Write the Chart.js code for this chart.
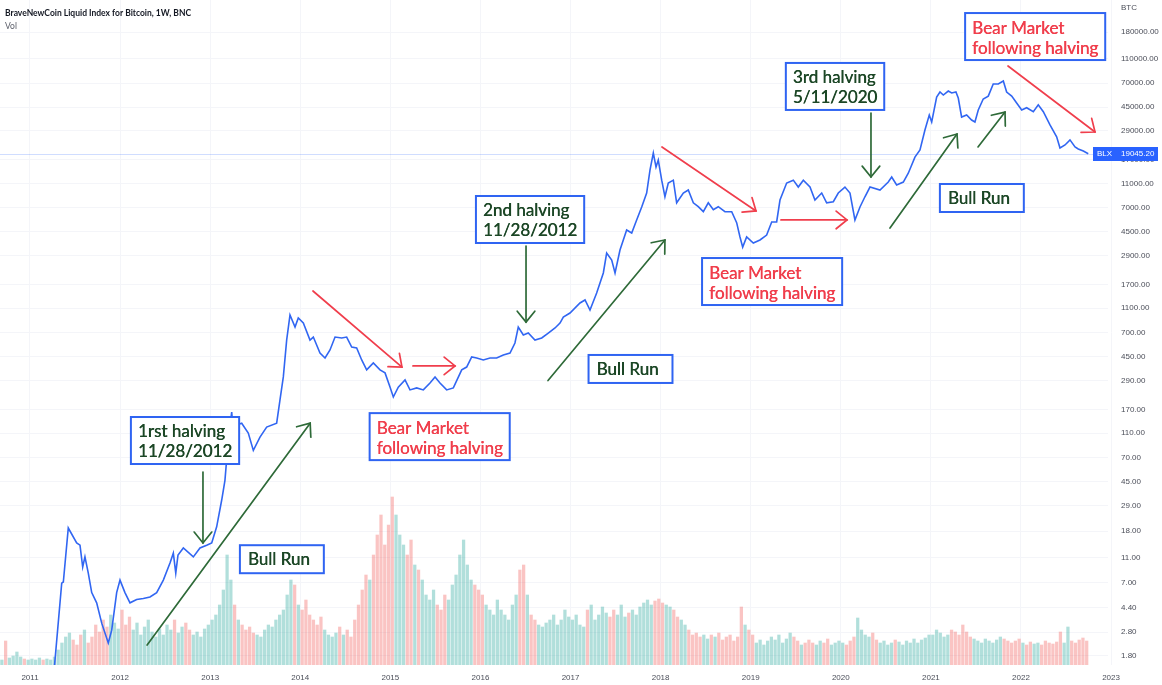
<!DOCTYPE html>
<html><head><meta charset="utf-8">
<script src="https://cdn.jsdelivr.net/npm/chart.js@4/dist/chart.umd.min.js"></script>
<style>html,body{margin:0;padding:0;background:#fff;}canvas{display:block;}</style>
</head><body>
<canvas id="c" width="1162" height="685"></canvas>
<script>
// ---- data ----
const weeks=[2011.266,2011.352,2011.370,2011.425,2011.518,2011.555,2011.585,2011.610,2011.647,2011.685,2011.740,2011.796,2011.869,2011.907,2011.962,2011.999,
2012.054,2012.110,2012.184,2012.258,2012.332,2012.406,2012.480,2012.554,2012.591,2012.618,2012.643,2012.702,2012.813,2012.887,2012.961,
2013.017,2013.072,2013.128,2013.164,2013.201,2013.239,2013.257,2013.294,2013.350,2013.423,2013.479,2013.553,2013.627,2013.738,2013.775,2013.812,2013.849,2013.886,2013.942,2013.978,
2014.034,2014.108,2014.145,2014.219,2014.275,2014.330,2014.386,2014.460,2014.515,2014.571,2014.626,2014.682,2014.737,2014.811,2014.885,2014.941,2014.996,
2015.033,2015.088,2015.163,2015.218,2015.292,2015.366,2015.440,2015.496,2015.551,2015.625,2015.699,2015.792,2015.847,2015.903,2015.958,
2016.032,2016.106,2016.180,2016.254,2016.328,2016.383,2016.420,2016.476,2016.531,2016.605,2016.680,2016.753,2016.828,2016.883,2016.920,2016.994,
2017.105,2017.161,2017.216,2017.290,2017.364,2017.401,2017.457,2017.494,2017.549,2017.623,2017.679,2017.734,2017.790,2017.845,2017.882,2017.919,2017.949,2017.974,
2018.012,2018.048,2018.085,2018.141,2018.178,2018.252,2018.307,2018.363,2018.418,2018.474,2018.529,2018.585,2018.640,2018.714,2018.789,2018.844,2018.881,2018.911,2018.955,
2019.029,2019.103,2019.177,2019.233,2019.288,2019.325,2019.399,2019.473,2019.528,2019.584,2019.658,2019.713,2019.788,2019.843,2019.917,2019.972,
2020.046,2020.102,2020.157,2020.213,2020.268,2020.324,2020.435,2020.527,2020.565,2020.620,2020.694,2020.749,2020.823,2020.879,2020.934,2020.982,
2021.009,2021.064,2021.101,2021.138,2021.193,2021.231,2021.278,2021.304,2021.341,2021.397,2021.452,2021.489,2021.526,2021.581,2021.637,2021.692,2021.748,2021.804,2021.841,2021.897,2021.952,
2022.008,2022.063,2022.137,2022.192,2022.248,2022.322,2022.396,2022.433,2022.489,2022.544,2022.600,2022.636,2022.692,2022.747];
const blx=[1.34,6.9,7.05,19.1,14.5,13.9,9.3,11.2,8.3,5.8,4.8,3.3,2.29,2.9,5.8,7.3,
5.8,4.8,5.1,5.2,5.35,5.8,7.3,10.0,12.0,8.3,11.6,13.2,11.2,13.2,13.9,
14.5,19.5,32,46,97,162,110,128,132,110,80,102,123,132,203,310,612,972,778,919,
838,612,647,482,440,510,647,636,647,538,529,424,353,401,353,334,257,
214,257,293,244,253,244,277,310,277,244,253,353,372,448,440,
424,440,440,465,482,580,778,672,697,612,636,697,765,838,936,1008,
1214,1283,1066,1460,2110,3050,2680,2110,3220,4660,4410,5610,7130,9230,14100,19300,14900,16950,
11700,8610,11100,11700,7710,9230,9760,7710,7170,6540,7710,6780,7170,6540,6540,5340,4100,3400,4100,
3670,3880,4250,5410,5410,8110,11100,11700,10300,11700,10300,8110,9230,7710,7860,9230,
10300,9230,5610,7130,8610,10300,9760,11300,12400,10700,11300,13300,17900,20400,29500,38900,
34200,54200,59500,56300,60600,58400,59500,53200,37500,38900,35500,34200,42700,52300,55200,68900,68900,72800,59500,55200,48600,
42700,44500,41400,47000,41400,32400,26000,21200,22400,24600,21600,20800,20000,19045.2];
const lastPrice=19045.20;
// half-month volume estimates starting at volStart
const volStart=2010.667, volStep=1/24;
const volume=[5,24,7,9,13,8,6,5,
6,5,7,5,6,5,8,15,22,28,32,25,20,30,35,22,28,40,33,45,38,50,42,36,
55,40,48,35,42,30,38,45,33,28,36,30,40,35,45,32,38,42,35,30,33,28,36,40,
45,50,60,75,110,85,60,45,40,35,38,32,30,28,35,40,38,45,50,55,70,85,80,60,
55,65,50,45,40,48,35,30,28,32,38,30,35,28,45,60,75,90,85,110,130,150,120,140,
168,150,130,120,110,125,100,95,85,70,65,75,60,55,70,65,80,90,110,125,100,85,80,75,
70,60,55,50,65,55,50,45,60,70,95,100,70,50,45,40,38,42,45,50,40,45,55,48,
45,50,40,38,55,60,45,50,58,52,48,55,50,60,48,52,55,50,58,62,65,60,64,66,
62,60,58,55,48,45,40,35,30,32,28,30,26,30,28,32,25,28,30,24,28,58,40,35,
30,22,25,20,24,28,25,30,22,26,32,28,24,20,22,25,22,20,24,22,26,20,22,24,
22,20,24,28,47,35,30,28,32,25,22,24,20,22,25,23,20,24,22,26,22,25,27,30,
30,35,32,28,30,35,33,30,40,33,28,26,24,22,26,24,22,25,28,26,24,22,24,26,
22,20,23,21,22,20,24,22,21,23,33,22,38,24,22,25,27,24];
const yearTicks=[2011,2012,2013,2014,2015,2016,2017,2018,2019,2020,2021,2022,2023];
const priceTicks=[1.8,2.8,4.4,7,11,18,29,45,70,110,170,290,450,700,1100,1700,2900,4500,7000,11000,17000,29000,45000,70000,110000,180000];
// annotations in data coordinates (year, price)
const GREEN='#1c4726', GREEN_ARROW='#2e6a38', RED='#f03e4c', BOX='#2f64f2';
const notes=[
 {t:2012.12,p:148,lines:['1rst halving','11/28/2012'],c:GREEN},
 {t:2013.33,p:13.9,lines:['Bull Run'],c:GREEN},
 {t:2014.77,p:159,lines:['Bear Market','following halving'],c:RED},
 {t:2015.95,p:8735,lines:['2nd halving','11/28/2012'],c:GREEN},
 {t:2017.20,p:465,lines:['Bull Run'],c:GREEN},
 {t:2018.46,p:2781,lines:['Bear Market','following halving'],c:RED},
 {t:2019.39,p:101700,lines:['3rd halving','5/11/2020'],c:GREEN},
 {t:2021.10,p:10900,lines:['Bull Run'],c:GREEN},
 {t:2021.38,p:255400,lines:['Bear Market','following halving'],c:RED}
];
const arrows=[
 [2012.92,53.6,2012.92,14.5,GREEN_ARROW],
 [2012.30,2.2,2014.11,132,GREEN_ARROW],
 [2016.506,3470,2016.506,853,GREEN_ARROW],
 [2016.75,290,2018.048,3876,GREEN_ARROW],
 [2020.335,40400,2020.335,12400,GREEN_ARROW],
 [2020.546,4840,2021.29,27400,GREEN_ARROW],
 [2021.523,21600,2021.823,41100,GREEN_ARROW],
 [2014.141,1514,2015.129,372,RED],
 [2015.251,380,2015.718,380,RED],
 [2018.015,21600,2019.059,6626,RED],
 [2019.336,5614,2020.069,5614,RED],
 [2021.856,96200,2022.822,28440,RED]
];

// ---- helpers ----
function priceAt(t){
  if(t<weeks[0]) return null;
  if(t>=weeks[weeks.length-1]) return blx[blx.length-1];
  for(let i=0;i<weeks.length-1;i++){
    if(t>=weeks[i]&&t<weeks[i+1]){
      const f=(t-weeks[i])/(weeks[i+1]-weeks[i]);
      return Math.exp(Math.log(blx[i])*(1-f)+Math.log(blx[i+1])*f);
    }
  }
  return null;
}
const TEAL='rgba(38,166,154,0.36)', PINK='rgba(239,83,80,0.34)';
const volData=volume.map((v,i)=>({x:volStart+(i+0.5)*volStep,y:v}));
const volColors=volume.map((v,i)=>{
  const t0=volStart+i*volStep, p0=priceAt(t0), p1=priceAt(t0+volStep);
  if(p0==null||p1==null) return (i%5===1)?PINK:TEAL;
  return p1>=p0?TEAL:PINK;
});
const lineData=weeks.map((w,i)=>({x:w,y:blx[i]}));

const TICKFONT={family:'"Liberation Sans", Arial, sans-serif',size:8};
const TICKCOL='#4b4e59';

const deco={
  id:'deco',
  beforeDatasetsDraw(chart){
    const {ctx,chartArea:a,scales:{y}}=chart;
    const py=Math.round(y.getPixelForValue(lastPrice))+0.5;
    ctx.save();
    ctx.strokeStyle='rgba(41,98,255,0.22)';ctx.lineWidth=1;
    ctx.beginPath();ctx.moveTo(a.left,py);ctx.lineTo(a.right,py);ctx.stroke();
    ctx.restore();
  },
  afterDatasetsDraw(chart){
    const {ctx,scales:{x,y}}=chart;
    ctx.save();
    arrows.forEach(([t1,p1,t2,p2,c])=>{
      const x1=x.getPixelForValue(t1),y1=y.getPixelForValue(p1),x2=x.getPixelForValue(t2),y2=y.getPixelForValue(p2);
      ctx.strokeStyle=c;ctx.lineWidth=1.7;ctx.lineCap='round';
      ctx.beginPath();ctx.moveTo(x1,y1);ctx.lineTo(x2,y2);ctx.stroke();
      const ang=Math.atan2(y2-y1,x2-x1),L=14,sp=0.68;
      ctx.beginPath();
      ctx.moveTo(x2-L*Math.cos(ang-sp),y2-L*Math.sin(ang-sp));
      ctx.lineTo(x2,y2);
      ctx.lineTo(x2-L*Math.cos(ang+sp),y2-L*Math.sin(ang+sp));
      ctx.stroke();
    });
    ctx.font='17px Lato, "Open Sans", sans-serif';
    notes.forEach(n=>{
      const bx=x.getPixelForValue(n.t),by=y.getPixelForValue(n.p);
      const single=n.lines.length===1;
      const w=Math.max(...n.lines.map(s=>ctx.measureText(s).width))+(single?22:14);
      const h=single?28:47;
      ctx.fillStyle='#fff';ctx.fillRect(bx,by,w,h);
      ctx.strokeStyle=BOX;ctx.lineWidth=2;ctx.strokeRect(bx,by,w,h);
      ctx.fillStyle=n.c;ctx.textBaseline='middle';ctx.textAlign='left';
      n.lines.forEach((s,i)=>{
        const ty=by+(single?14.5:15+i*20), tx=bx+(single?8:7);
        ctx.fillText(s,tx,ty);ctx.fillText(s,tx+0.4,ty);
      });
    });
    ctx.restore();
  },
  afterDraw(chart){
    const {ctx,scales:{y}}=chart;
    ctx.save();
    ctx.textBaseline='middle';ctx.textAlign='left';
    ctx.font='bold 8.5px Lato, sans-serif';ctx.fillStyle='#131722';
    ctx.fillText('BraveNewCoin Liquid Index for Bitcoin, 1W, BNC',5,13);
    ctx.font='8.5px Lato, sans-serif';ctx.fillStyle='#5d606b';
    ctx.fillText('Vol',5,26);
    ctx.font='8px "Liberation Sans", Arial, sans-serif';ctx.fillStyle=TICKCOL;
    ctx.fillText('BTC',1121,8);
    const py=y.getPixelForValue(lastPrice);
    ctx.fillStyle='#2962ff';
    ctx.fillRect(1093,Math.round(py)-7,65,14);
    ctx.fillStyle='#fff';ctx.font='8px "Liberation Sans", Arial, sans-serif';
    ctx.fillText('BLX',1097,py);
    ctx.fillText(lastPrice.toFixed(2),1121,py);
    ctx.restore();
  }
};

new Chart(document.getElementById('c'),{
  type:'bar',
  data:{datasets:[
    {type:'line',data:lineData,xAxisID:'x',yAxisID:'y',borderColor:'#3166f2',borderWidth:1.6,pointRadius:0,tension:0,order:0},
    {type:'bar',data:volData,xAxisID:'x',yAxisID:'yv',backgroundColor:volColors,barThickness:2.6,order:1}
  ]},
  options:{
    responsive:false,animation:false,devicePixelRatio:1,
    layout:{padding:0},
    plugins:{legend:{display:false},tooltip:{enabled:false}},
    scales:{
      x:{type:'linear',position:'bottom',offset:false,min:2010.667,max:2022.966,bounds:'data',
        grid:{color:'#f4f5f9',drawTicks:false,offset:false},border:{display:false},
        ticks:{font:TICKFONT,color:TICKCOL,padding:8,maxRotation:0,autoSkip:false,callback:v=>String(v)},
        afterBuildTicks:s=>{s.ticks=yearTicks.map(v=>({value:v}));},
        afterFit:s=>{s.height=20;s.paddingLeft=0;s.paddingRight=0;}},
      y:{type:'logarithmic',position:'right',min:1.5245,max:324900,bounds:'data',
        grid:{color:'#f4f5f9',drawTicks:false},border:{display:false},
        ticks:{font:TICKFONT,color:TICKCOL,padding:13,autoSkip:false,callback:v=>Number(v).toFixed(2)},
        afterBuildTicks:s=>{s.ticks=priceTicks.map(v=>({value:v}));},
        afterFit:s=>{s.width=54;s.paddingTop=0;s.paddingBottom=0;}},
      yv:{type:'linear',display:false,min:0,max:665}
    }
  },
  plugins:[deco]
});
</script>
</body></html>
